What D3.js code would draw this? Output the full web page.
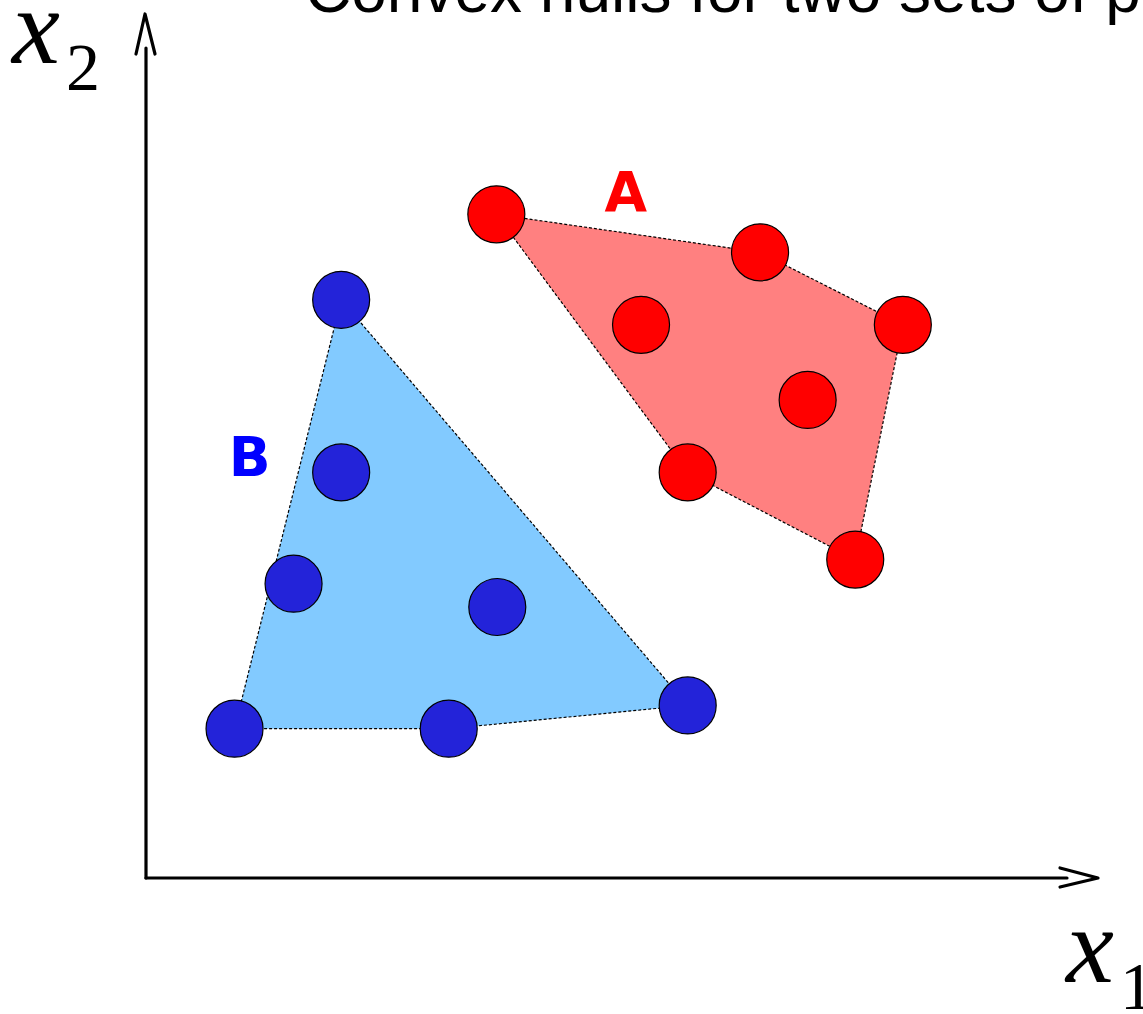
<!DOCTYPE html>
<html>
<head>
<meta charset="utf-8">
<script src="https://cdn.jsdelivr.net/npm/d3@7"></script>
<style>
  html, body { margin: 0; padding: 0; background: #fff; }
  svg { display: block; }
</style>
</head>
<body>
<svg id="chart" width="1143" height="1014"></svg>
<script>
// Two point sets in feature space (x1, x2), both on a 0–100 scale
const setA_x1 = [36.8, 64.5, 79.5, 52.0, 69.5, 56.9, 74.5];
const setA_x2 = [76.9, 72.5, 64.1, 64.1, 55.4, 47.0, 36.9];
const setB_x1 = [20.5, 20.5, 15.5, 36.9, 9.3, 31.8, 56.9];
const setB_x2 = [67.0, 47.0, 34.1, 31.4, 17.3, 17.3, 20.0];

const setNames = ["A", "B"];
const labelX1 = [50.4, 10.9];
const labelX2 = [77.3, 46.6];

const titleText = "Convex hulls for two sets of points";

const svg = d3.select("#chart");

const x = d3.scaleLinear().domain([0, 100]).range([146, 1098]);
const y = d3.scaleLinear().domain([0, 100]).range([878, 15]);

const sets = [
  { name: setNames[0], pts: setA_x1.map((v, i) => [v, setA_x2[i]]),
    hull: "#ff8080", dot: "#ff0000", text: "#ff0000", lx: labelX1[0], ly: labelX2[0] },
  { name: setNames[1], pts: setB_x1.map((v, i) => [v, setB_x2[i]]),
    hull: "#82caff", dot: "#2323d9", text: "#0000ff", lx: labelX1[1], ly: labelX2[1] }
];

// Title (runs off the top edge of the canvas)
svg.append("text")
  .attr("x", 305).attr("y", 12)
  .attr("font-family", "'Liberation Sans', Arial, sans-serif")
  .attr("font-size", 64)
  .attr("fill", "#000")
  .text(titleText);

// Convex hull polygons
sets.forEach(s => {
  const hull = d3.polygonHull(s.pts.map(p => [x(p[0]), y(p[1])]));
  svg.append("path")
    .attr("d", "M" + hull.join("L") + "Z")
    .attr("fill", s.hull)
    .attr("stroke", "#000")
    .attr("stroke-width", 1.2)
    .attr("stroke-dasharray", "3,2");
});

// Points
sets.forEach(s => {
  svg.append("g").selectAll("circle")
    .data(s.pts)
    .join("circle")
    .attr("cx", d => x(d[0]))
    .attr("cy", d => y(d[1]))
    .attr("r", 28.5)
    .attr("fill", s.dot)
    .attr("stroke", "#000")
    .attr("stroke-width", 1.2);
});

// Set labels
sets.forEach(s => {
  svg.append("text")
    .attr("x", x(s.lx)).attr("y", y(s.ly))
    .attr("text-anchor", "middle")
    .attr("font-family", "'DejaVu Sans', sans-serif")
    .attr("font-weight", "bold")
    .attr("font-size", 55)
    .attr("fill", s.text)
    .text(s.name);
});

// Axes with open arrowheads
const axisG = svg.append("g")
  .attr("stroke", "#000").attr("stroke-width", 3.2)
  .attr("fill", "none").attr("stroke-linecap", "round").attr("stroke-linejoin", "round");

axisG.append("path").attr("d", `M${x(0)},${y(0)}V${y(0) - 830}`);
axisG.append("path").attr("d", `M${x(0) - 10},${y(0) - 824}L${x(0) - 1},${y(0) - 864}L${x(0) + 9},${y(0) - 824}`);
axisG.append("path").attr("d", `M${x(0)},${y(0)}H${x(0) + 921}`);
axisG.append("path").attr("d", `M${x(0) + 914},${y(0) - 10}L${x(0) + 952},${y(0)}L${x(0) + 914},${y(0) + 9}`);

// Axis names: italic x with subscript index
function axisName(px, py, sub) {
  const t = svg.append("text")
    .attr("x", px).attr("y", py)
    .attr("font-family", "'Liberation Serif', 'Times New Roman', serif")
    .attr("fill", "#000");
  t.append("tspan").attr("font-style", "italic").attr("font-size", 108).text("x");
  t.append("tspan").attr("font-size", 68).attr("dx", 6).attr("dy", 27).text(sub);
}
axisName(12, 63, "2");
axisName(1066, 982, "1");
</script>
</body>
</html>
